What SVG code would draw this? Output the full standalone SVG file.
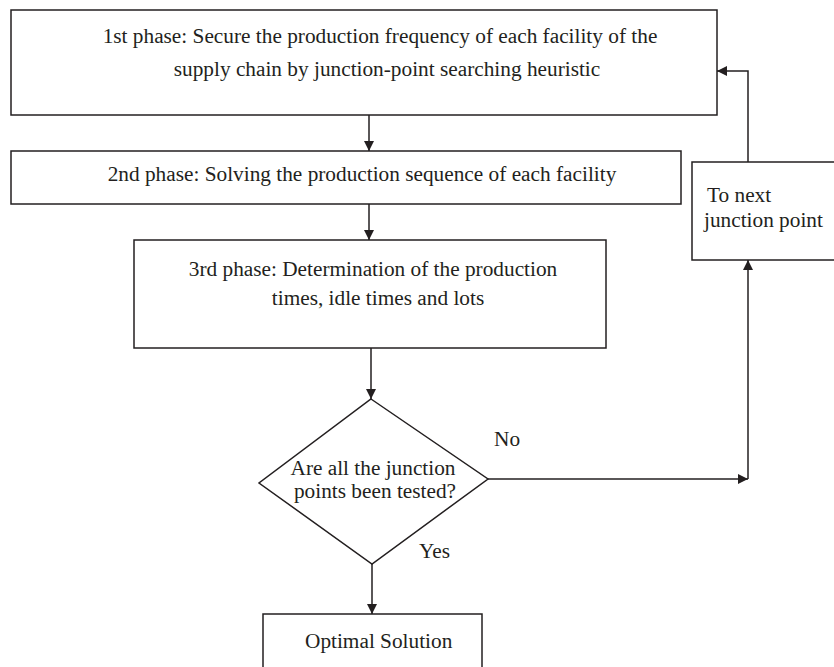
<svg xmlns="http://www.w3.org/2000/svg" width="834" height="667" viewBox="0 0 834 667">
<defs>
<style>
.box{fill:#fff;stroke:#231f20;stroke-width:1.5}
.ln{fill:none;stroke:#231f20;stroke-width:1.5}
text{font-family:"Liberation Serif","Times New Roman",serif;font-size:21.3px;fill:#231f20}
.c{text-anchor:middle}
</style>
<marker id="ah" viewBox="0 0 10 10" refX="10" refY="5" markerWidth="11" markerHeight="10" markerUnits="userSpaceOnUse" orient="auto">
<path d="M0,0 L10,5 L0,10 z" fill="#231f20"/>
</marker>
</defs>
<rect width="834" height="667" fill="#fff"/>
<g id="phase1">
<rect class="box" x="11" y="10" width="706" height="105"/>
<text class="c" x="380" y="43">1st phase: Secure the production frequency of each facility of the</text>
<text class="c" x="387" y="76">supply chain by junction-point searching heuristic</text>
</g>
<g id="phase2">
<rect class="box" x="11" y="151" width="670" height="53"/>
<text class="c" x="362" y="181">2nd phase: Solving the production sequence of each facility</text>
</g>
<g id="phase3">
<rect class="box" x="134" y="240" width="472" height="108"/>
<text class="c" x="373" y="276">3rd phase: Determination of the production</text>
<text class="c" x="378" y="305">times, idle times and lots</text>
</g>
<g id="decision">
<polygon class="box" points="371,399 488,479 372,564 259,483"/>
<text class="c" x="373" y="475">Are all the junction</text>
<text class="c" x="375" y="498">points been tested?</text>
</g>
<g id="next">
<rect class="box" x="692" y="162" width="150" height="98"/>
<text x="707" y="202">To next</text>
<text x="704" y="227">junction point</text>
</g>
<g id="optimal">
<rect class="box" x="263" y="614" width="219" height="70"/>
<text x="305" y="648">Optimal Solution</text>
</g>
<g id="connectors">
<line class="ln" x1="369" y1="115" x2="369" y2="151" marker-end="url(#ah)"/>
<line class="ln" x1="369" y1="204" x2="369" y2="240" marker-end="url(#ah)"/>
<line class="ln" x1="371" y1="348" x2="371" y2="399" marker-end="url(#ah)"/>
<line class="ln" x1="372" y1="564" x2="372" y2="614" marker-end="url(#ah)"/>
<line class="ln" x1="488" y1="479" x2="748" y2="479" marker-end="url(#ah)"/>
<line class="ln" x1="748" y1="479" x2="748" y2="260" marker-end="url(#ah)"/>
<polyline class="ln" points="748,162 748,71 717,71" marker-end="url(#ah)"/>
<text x="494" y="446">No</text>
<text x="419" y="558">Yes</text>
</g>
</svg>
